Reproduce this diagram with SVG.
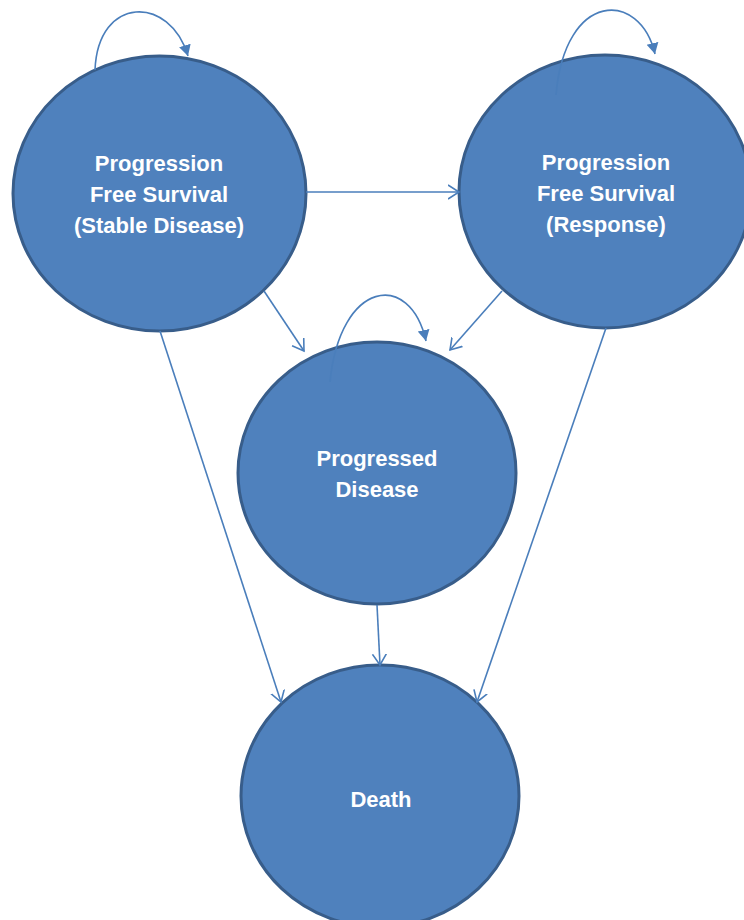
<svg xmlns="http://www.w3.org/2000/svg" width="744" height="920" viewBox="0 0 744 920">
  <style>
    .state { fill: #4f81bd; stroke: #385d8a; stroke-width: 3; }
    .label { fill: #ffffff; font-family: "Liberation Sans", Arial, sans-serif; font-weight: bold; font-size: 22px; text-anchor: middle; }
    .edge { fill: none; stroke: #4a7ebb; stroke-width: 1.6; }
    .open { marker-end: url(#openHead); }
    .loop { marker-end: url(#solidHead); }
  </style>
  <defs>
    <marker id="openHead" markerUnits="userSpaceOnUse" markerWidth="14" markerHeight="16" refX="11" refY="7" orient="auto" viewBox="0 0 14 14">
      <path d="M0,0 L11,7 L0,14" fill="none" stroke="#4a7ebb" stroke-width="1.6"/>
    </marker>
    <marker id="solidHead" markerUnits="userSpaceOnUse" markerWidth="12" markerHeight="14" refX="11" refY="6" orient="auto" viewBox="0 0 12 12">
      <path d="M0,0 L11,6 L0,12 Z" fill="#4a7ebb"/>
    </marker>
  </defs>

  <rect width="744" height="920" fill="#ffffff"/>

  <!-- States -->
  <g id="pfs-stable">
    <ellipse class="state" cx="159.5" cy="193.5" rx="146.5" ry="137.5"/>
    <text class="label" x="159" y="170.5">Progression</text>
    <text class="label" x="159" y="201.5">Free Survival</text>
    <text class="label" x="159" y="232.5">(Stable Disease)</text>
  </g>
  <g id="pfs-response">
    <ellipse class="state" cx="605" cy="191.5" rx="146" ry="136.5"/>
    <text class="label" x="606" y="170">Progression</text>
    <text class="label" x="606" y="201">Free Survival</text>
    <text class="label" x="606" y="232">(Response)</text>
  </g>
  <g id="progressed">
    <ellipse class="state" cx="377" cy="473" rx="139" ry="131"/>
    <text class="label" x="377" y="466">Progressed</text>
    <text class="label" x="377" y="497">Disease</text>
  </g>
  <g id="death">
    <ellipse class="state" cx="380" cy="796" rx="139" ry="131"/>
    <text class="label" x="381" y="806.5">Death</text>
  </g>

  <!-- Transitions -->
  <g id="connectors">
    <path class="edge open" d="M306,192 L459,192"/>
    <path class="edge open" d="M264,291 L304,351"/>
    <path class="edge open" d="M502,291 L450,350"/>
    <path class="edge open" d="M160,331 L281,702"/>
    <path class="edge open" d="M606,328 L477,702"/>
    <path class="edge open" d="M377,605 L380,665"/>
    <path class="edge loop" d="M95,70 C98,-5 170,-5 188,56"/>
    <path class="edge loop" d="M556,95 C565,-10 640,-10 655,54"/>
    <path class="edge loop" d="M330,382 C340,280 410,270 426,341"/>
  </g>
</svg>
